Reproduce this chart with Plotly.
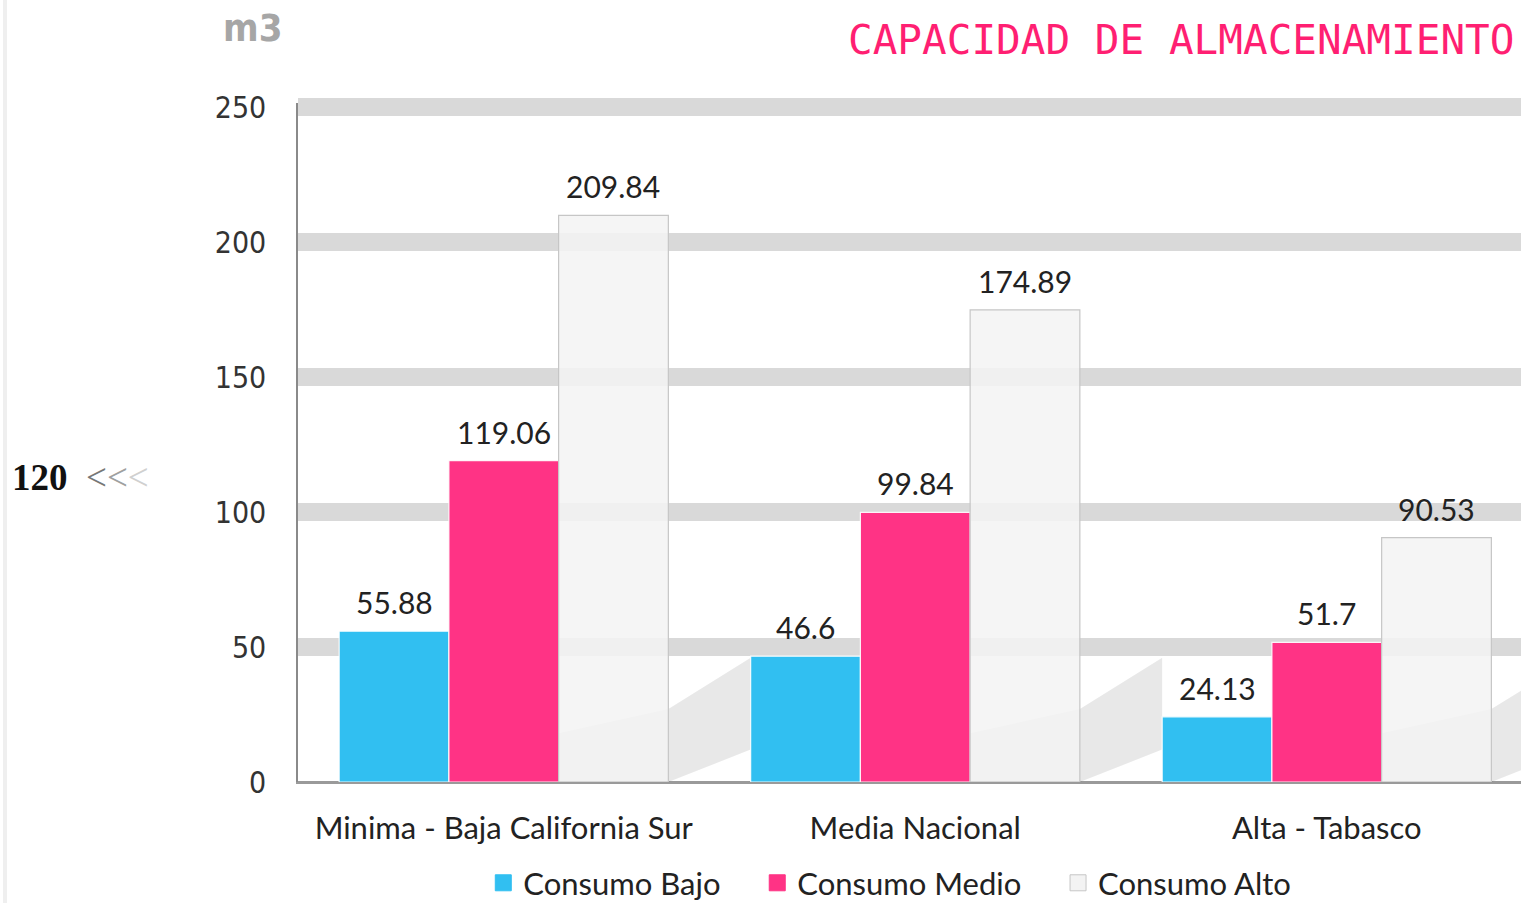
import plotly.graph_objects as go

categories = ["Minima - Baja California Sur", "Media Nacional", "Alta - Tabasco"]
series_names = ["Consumo Bajo", "Consumo Medio", "Consumo Alto"]
bajo = [55.88, 46.6, 24.13]
medio = [119.06, 99.84, 51.7]
alto = [209.84, 174.89, 90.53]
y_ticks = [0, 50, 100, 150, 200, 250]
title_text = "CAPACIDAD DE ALMACENAMIENTO"
unit_text = "m3"
side_value = "120"

W, H = 1521, 903
ML, MR, MT, MB = 298, 0, 103, 121
x_range = [-0.5, 2.472]
y_range = [0, 251.5]
px_per_cat = (W - ML - MR) / (x_range[1] - x_range[0])
bar_w_px = px_per_cat * 0.8 / 3
x_idx = list(range(len(categories)))

colors = ["#31bff1", "#ff3385", "rgba(243,243,243,0.86)"]
line_colors = ["rgba(255,255,255,0.9)", "rgba(255,255,255,0.9)", "#c6c6c6"]
legend_fill = ["#31bff1", "#ff3385", "#f3f3f3"]
legend_line = ["#31bff1", "#ff3385", "#c6c6c6"]
label_font = "Lato, 'Open Sans', sans-serif"
cond_font = "'DejaVu Sans Condensed', 'Liberation Sans Narrow', sans-serif"

fig = go.Figure()
all_series = [bajo, medio, alto]
for i, (name, vals) in enumerate(zip(series_names, all_series)):
    fig.add_trace(go.Bar(
        x=x_idx, y=vals, name=name, showlegend=False,
        marker=dict(color=colors[i], line=dict(color=line_colors[i], width=1.2)),
        hoverinfo="skip",
    ))
pad = "&nbsp;" * 4
for i, name in enumerate(series_names):
    fig.add_trace(go.Scatter(
        x=[None], y=[None], mode="markers",
        name=name + (pad if i < len(series_names) - 1 else ""), showlegend=True,
        marker=dict(symbol="square", size=16, color=legend_fill[i],
                    line=dict(color=legend_line[i], width=1)),
    ))

annotations = []
for i, vals in enumerate(all_series):
    for xi, v in zip(x_idx, vals):
        annotations.append(dict(
            x=xi, y=v, xref="x", yref="y", text=f"{v:g}", showarrow=False,
            xshift=(i - 1) * bar_w_px, yshift=9, yanchor="bottom",
            font=dict(family=label_font, size=30, color="#222222"),
        ))

plot_w = W - ML - MR
plot_h = H - MT - MB

def px_x(px):
    return (px - ML) / plot_w

def px_y(py):
    return (H - MB - py) / plot_h

annotations.append(dict(
    x=px_x(1516), y=px_y(40), xref="paper", yref="paper", xanchor="right", yanchor="middle",
    text=title_text, showarrow=False,
    font=dict(family="'DejaVu Sans Mono', 'Liberation Mono', monospace", size=41, color="#ff1f72"),
))
annotations.append(dict(
    x=px_x(284), y=px_y(28), xref="paper", yref="paper", xanchor="right", yanchor="middle",
    text=f"<b>{unit_text}</b>", showarrow=False,
    font=dict(family=cond_font, size=38, color="#a6a6a6"),
))
annotations.append(dict(
    x=px_x(10), y=px_y(477), xref="paper", yref="paper", xanchor="left", yanchor="middle",
    text=(f"<b>{side_value}</b>&nbsp;&nbsp;<span style='color:#777777'>&lt;</span>"
          "<span style='color:#a0a0a0'>&lt;</span><span style='color:#d0d0d0'>&lt;</span>"),
    showarrow=False,
    font=dict(family="'Liberation Serif', 'DejaVu Serif', serif", size=37, color="#111111"),
))

shapes = [dict(
    type="rect", xref="paper", yref="paper",
    x0=px_x(3), x1=px_x(7), y0=px_y(H), y1=px_y(0),
    fillcolor="#efefef", line=dict(width=0), layer="below",
)]
# soft diagonal floor shadows behind each group (decorative)
for xi in x_idx:
    pts = [(xi + 0.13, 0), (xi + 0.13, 18), (xi + 0.4, 27), (xi + 0.6, 46), (xi + 0.6, 12), (xi + 0.4, 0)]
    path = "M " + " L ".join(f"{a},{b}" for a, b in pts) + " Z"
    shapes.append(dict(
        type="path", xref="x", yref="y", path=path,
        fillcolor="rgba(0,0,0,0.09)", line=dict(width=0), layer="between",
    ))

fig.update_layout(
    width=W, height=H,
    margin=dict(l=ML, r=MR, t=MT, b=MB, pad=0),
    paper_bgcolor="white", plot_bgcolor="white",
    barmode="group", bargap=0.2, bargroupgap=0,
    showlegend=True,
    legend=dict(
        orientation="h", xref="container", yref="container",
        x=0.585, y=0.022, xanchor="center", yanchor="middle",
        font=dict(family=label_font, size=31, color="#222222"),
        itemwidth=30, traceorder="normal", itemsizing="trace",
    ),
    xaxis=dict(
        range=x_range, tickvals=x_idx, ticktext=categories,
        showgrid=False, zeroline=False, showline=True, linecolor="#9a9a9a", linewidth=1.5,
        ticks="", tickfont=dict(family=label_font, size=31, color="#222222"),
        ticklabelstandoff=18, fixedrange=True,
    ),
    yaxis=dict(
        range=y_range, tickvals=y_ticks, showgrid=True, gridcolor="#d9d9d9", gridwidth=18,
        zeroline=True, zerolinecolor="#9a9a9a", zerolinewidth=1.5,
        showline=True, linecolor="#8a8a8a", linewidth=1.5,
        ticks="", tickfont=dict(family=cond_font, size=30, color="#333333"),
        ticklabelstandoff=24, fixedrange=True,
    ),
    annotations=annotations,
    shapes=shapes,
)

fig.write_html("out.html", config={"displayModeBar": False},
               post_script="document.body.style.margin='0px';")
